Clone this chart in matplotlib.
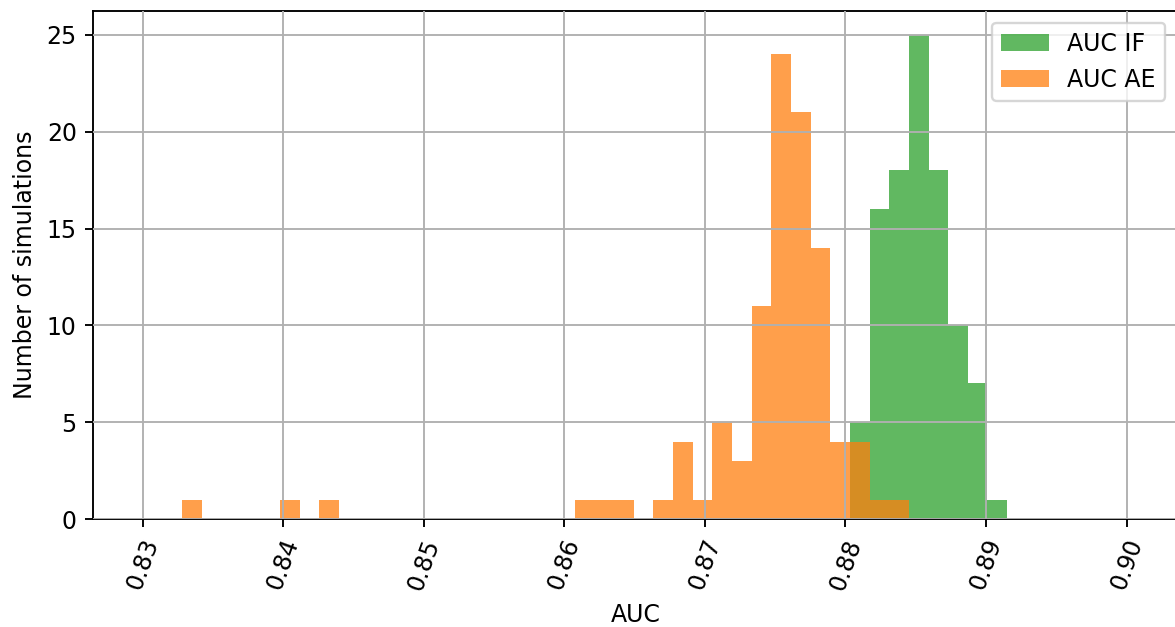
import numpy as np
import matplotlib
matplotlib.use('Agg')
import matplotlib.pyplot as plt

# common bin edges shared by both histograms
bin_lo, bin_hi, n_bins = 0.8328, 0.8915, 42
edges = np.linspace(bin_lo, bin_hi, n_bins + 1)

# simulation counts per bin (100 simulations each)
counts_if = [0] * 34 + [5, 16, 18, 25, 18, 10, 7, 1]
counts_ae = [1, 0, 0, 0, 0, 1, 0, 1, 0, 0,
             0, 0, 0, 0, 0, 0, 0, 0, 0, 0,
             1, 1, 1, 0, 1, 4, 1, 5, 3, 11,
             24, 21, 14, 4, 4, 1, 1, 0, 0, 0,
             0, 0]

xticks = [0.83, 0.84, 0.85, 0.86, 0.87, 0.88, 0.89, 0.90]
xtick_labels = ['0.83', '0.84', '0.85', '0.86', '0.87', '0.88', '0.89', '0.90']

dpi = 170
fig = plt.figure(figsize=(1175 / dpi, 627 / dpi), dpi=dpi)
ax = fig.add_axes([0.0794, 0.1722, 0.9225, 0.8107])

centers = (edges[:-1] + edges[1:]) / 2
ax.hist(centers, bins=edges, weights=counts_if, color='#2ca02c', alpha=0.75, label='AUC IF')
ax.hist(centers, bins=edges, weights=counts_ae, color='#ff7f0e', alpha=0.75, label='AUC AE')

ax.set_xlim(0.8265, 0.9036)
ax.set_xticks(xticks)
ax.set_xticklabels(xtick_labels, rotation=70)
ax.set_yticks([0, 5, 10, 15, 20, 25])

ax.grid(True)
ax.set_axisbelow(False)

ax.set_xlabel('AUC')
ax.set_ylabel('Number of simulations')
ax.legend(loc='upper right')

fig.savefig('out.png', dpi=dpi)
